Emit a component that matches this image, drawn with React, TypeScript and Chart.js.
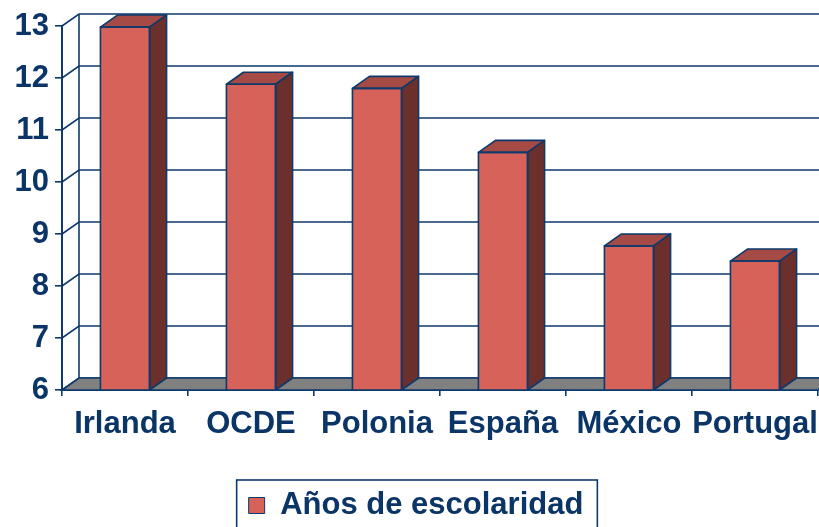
import React, { useEffect, useRef } from "react";
import { Chart, registerables } from "chart.js";

Chart.register(...registerables);

const categories = ["Irlanda", "OCDE", "Polonia", "España", "México", "Portugal"];
const values = [12.98, 11.88, 11.8, 10.57, 8.77, 8.48];
const seriesLabel = "Años de escolaridad";
const yMin = 6;
const yMax = 13;

const NAVY = "#0d3a6c";
const TEXT = "#0a3566";
const FRONT = "#d6625a";
const TOP = "#a54a44";
const SIDE = "#6b2f2c";
const FLOOR = "#808080";
const DX = 17;
const DY = 12;
const FONT = "'Liberation Sans', Arial, sans-serif";
const LEGEND_SHIFT = 7;
const LEGEND_FONT_SIZE = 31;
const LEGEND_BOX = 16;
const LEGEND_PAD = 10;

const threeD = {
  id: "threeD",
  afterLayout(chart: any) {
    const lg = chart.legend;
    if (lg) {
      lg.left += LEGEND_SHIFT;
      lg.right += LEGEND_SHIFT;
    }
  },
  beforeDatasetsDraw(chart: any) {
    const { ctx, chartArea, scales } = chart;
    const { left, right, top, bottom } = chartArea;
    const y = scales.y;
    ctx.save();
    ctx.strokeStyle = NAVY;
    ctx.lineWidth = 1.6;
    y.ticks.forEach((t: any) => {
      const py = y.getPixelForValue(t.value);
      ctx.beginPath();
      ctx.moveTo(left, py);
      ctx.lineTo(left + DX, py - DY);
      ctx.lineTo(right + DX, py - DY);
      ctx.stroke();
    });
    ctx.beginPath();
    ctx.moveTo(left + DX, top - DY);
    ctx.lineTo(left + DX, bottom - DY);
    ctx.stroke();
    ctx.beginPath();
    ctx.moveTo(right + DX, top - DY);
    ctx.lineTo(right + DX, bottom - DY);
    ctx.stroke();
    ctx.beginPath();
    ctx.moveTo(left, bottom);
    ctx.lineTo(right, bottom);
    ctx.lineTo(right + DX, bottom - DY);
    ctx.lineTo(left + DX, bottom - DY);
    ctx.closePath();
    ctx.fillStyle = FLOOR;
    ctx.fill();
    ctx.stroke();
    ctx.restore();
  },
  afterDatasetsDraw(chart: any) {
    const { ctx, chartArea } = chart;
    const meta = chart.getDatasetMeta(0);
    ctx.save();
    ctx.strokeStyle = NAVY;
    ctx.lineWidth = 1.6;
    ctx.lineJoin = "round";
    meta.data.forEach((bar: any) => {
      const p = bar.getProps(["x", "y", "width", "base"], true);
      const x = p.x;
      const y = p.y;
      const width = p.width;
      const base = Math.min(p.base, chartArea.bottom);
      const l = x - width / 2;
      const r = x + width / 2;
      ctx.beginPath();
      ctx.moveTo(l, y);
      ctx.lineTo(r, y);
      ctx.lineTo(r + DX, y - DY);
      ctx.lineTo(l + DX, y - DY);
      ctx.closePath();
      ctx.fillStyle = TOP;
      ctx.fill();
      ctx.stroke();
      ctx.beginPath();
      ctx.moveTo(r, y);
      ctx.lineTo(r + DX, y - DY);
      ctx.lineTo(r + DX, base - DY);
      ctx.lineTo(r, base);
      ctx.closePath();
      ctx.fillStyle = SIDE;
      ctx.fill();
      ctx.stroke();
      ctx.strokeRect(l, y, width, base - y);
    });
    ctx.restore();
  },
  afterDraw(chart: any) {
    const lg = chart.legend;
    if (!lg) return;
    const { ctx } = chart;
    ctx.save();
    ctx.font = `bold ${LEGEND_FONT_SIZE}px ${FONT}`;
    const textW = ctx.measureText(seriesLabel).width;
    const itemW = LEGEND_BOX + LEGEND_FONT_SIZE / 2 + textW;
    const x0 = (lg.left + LEGEND_PAD + lg.right - (itemW + LEGEND_PAD)) / 2;
    const top = lg.top + LEGEND_PAD;
    ctx.strokeStyle = NAVY;
    ctx.lineWidth = 1.6;
    ctx.strokeRect(x0 - 12, top - 10, itemW + 26, 80);
    ctx.restore();
  },
};

export default function App() {
  const ref = useRef<HTMLCanvasElement | null>(null);
  useEffect(() => {
    if (!ref.current) return;
    const chart = new Chart(ref.current, {
      type: "bar",
      data: {
        labels: categories,
        datasets: [
          {
            label: seriesLabel,
            data: values,
            backgroundColor: FRONT,
            borderColor: NAVY,
            borderWidth: 0,
            barPercentage: 0.39,
            categoryPercentage: 1,
          },
        ],
      },
      options: {
        responsive: false,
        animation: false,
        events: [],
        layout: { padding: { top: 26, left: 0, right: 32, bottom: 0 } },
        plugins: {
          tooltip: { enabled: false },
          legend: {
            position: "bottom",
            labels: {
              boxWidth: LEGEND_BOX,
              boxHeight: LEGEND_BOX,
              padding: LEGEND_PAD,
              color: TEXT,
              font: { family: FONT, size: LEGEND_FONT_SIZE, weight: "bold" },
              generateLabels: () => [
                {
                  text: seriesLabel,
                  fillStyle: FRONT,
                  strokeStyle: NAVY,
                  fontColor: TEXT,
                  lineWidth: 1,
                  hidden: false,
                  datasetIndex: 0,
                },
              ],
            },
          },
        },
        scales: {
          x: {
            afterFit: (s: any) => {
              s.height = 90;
            },
            grid: {
              display: true,
              drawOnChartArea: false,
              drawTicks: true,
              tickLength: 6,
              color: NAVY,
              lineWidth: 1.6,
              offset: true,
            },
            border: { display: true, color: NAVY, width: 2 },
            ticks: {
              color: TEXT,
              padding: 10,
              maxRotation: 0,
              minRotation: 0,
              autoSkip: false,
              font: { family: FONT, size: 31, weight: "bold" },
            },
          },
          y: {
            min: yMin,
            max: yMax,
            afterFit: (s: any) => {
              s.width = 62;
            },
            grid: {
              display: true,
              drawOnChartArea: false,
              drawTicks: true,
              tickLength: 7,
              color: NAVY,
              lineWidth: 1.6,
            },
            border: { display: true, color: NAVY, width: 2 },
            ticks: {
              stepSize: 1,
              color: TEXT,
              padding: 6,
              font: { family: FONT, size: 31, weight: "bold" },
            },
          },
        },
      },
      plugins: [threeD],
    });
    return () => chart.destroy();
  }, []);
  return (
    <div style={{ position: "fixed", left: 0, top: 0, width: 819, height: 527, overflow: "hidden", background: "#fff" }}>
      <canvas ref={ref} width={850} height={531} style={{ display: "block" }} />
    </div>
  );
}
